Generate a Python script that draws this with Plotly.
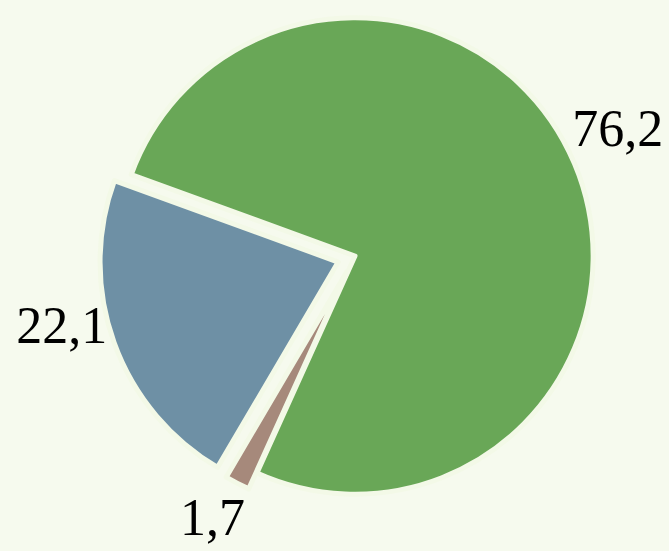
import plotly.graph_objects as go

labels = ["A", "B", "C"]
values = [76.2, 1.7, 22.1]
colors = ["#69a757", "#a6897b", "#6e90a5"]
pulls = [0, 0.075, 0.075]

W, H = 669, 551
cx, cy = 355, 256
S = 512
ROT = -70
BG = "#f6faee"


def dom(size):
    return dict(
        x=[(cx - size / 2) / W, (cx + size / 2) / W],
        y=[max(0, (H - (cy + size / 2)) / H), min(1, (H - (cy - size / 2)) / H)],
    )


fig = go.Figure()

# slices
fig.add_trace(go.Pie(
    labels=labels, values=values, sort=False, direction="clockwise",
    rotation=ROT, pull=pulls, automargin=False,
    marker=dict(colors=colors, line=dict(color="#f3f9e7", width=5)),
    textinfo="none", showlegend=False, hoverinfo="skip",
    domain=dom(S),
))

# value labels (one transparent pie per label, placed by plotly's outside text)
label_tweaks = {0: (-7.7, 507), 1: (-5.4, 512), 2: (3.7, 486)}
for idx, (drot, size) in label_tweaks.items():
    tmpl = ["" for _ in values]
    tmpl[idx] = "%{value:.1f}"
    fig.add_trace(go.Pie(
        labels=labels, values=values, sort=False, direction="clockwise",
        rotation=ROT + drot, pull=pulls, automargin=False,
        marker=dict(colors=["rgba(0,0,0,0)"] * len(values), line=dict(width=0)),
        textposition="outside", texttemplate=tmpl,
        textfont=dict(family="Liberation Serif", size=52, color="black"),
        showlegend=False, hoverinfo="skip",
        domain=dom(size),
    ))

fig.update_layout(
    width=W, height=H,
    margin=dict(l=0, r=0, t=0, b=0),
    paper_bgcolor=BG,
    plot_bgcolor=BG,
    separators=",.",
)

fig.write_html("out.html")
